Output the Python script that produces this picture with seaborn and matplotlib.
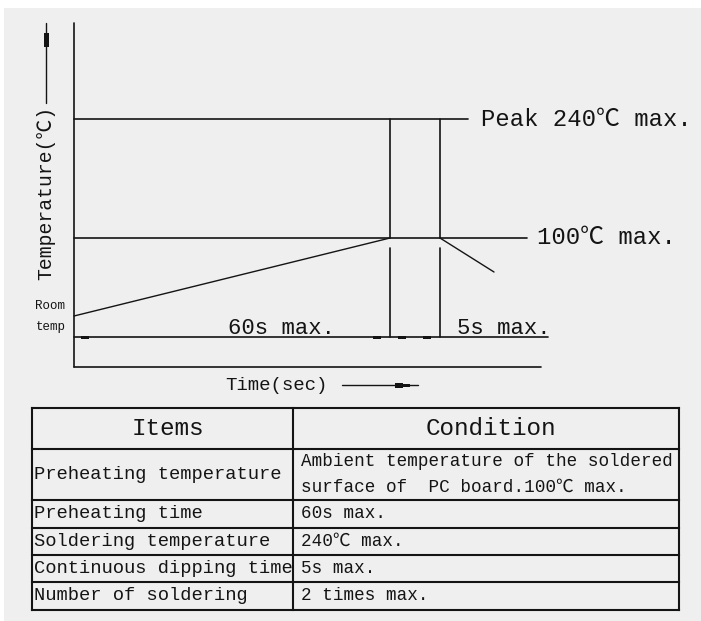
import matplotlib
matplotlib.use("Agg")
import matplotlib.pyplot as plt
import matplotlib.patches as mpatches
import seaborn as sns
import pandas as pd

# ---------------- data (schematic diagram units: 1 unit ~ 1 px) ----------------
# temperature levels (schematic heights above the time axis)
level_names = ["room", "preheat", "peak"]
level_heights = [51, 129, 248]
time_dim_height = 30          # height of the time dimension line
# time marks (schematic)
t_start, t_preheat_end, t_dip_end, t_cool_end = 0, 316, 366, 420
cool_end_height = 95

profile_time = [t_start, t_preheat_end, None, t_dip_end, t_cool_end]
profile_temp = [51, 129, None, 129, 95]

peak_label = "Peak 240℃ max."
preheat_label = "100℃ max."
preheat_time_label = "60s max."
dip_time_label = "5s max."
y_label = "Temperature(℃)"
x_label = "Time(sec)"

table_header = ["Items", "Condition"]
table_items = ["Preheating temperature", "Preheating time", "Soldering temperature",
               "Continuous dipping time", "Number of soldering"]
table_conditions = ["Ambient temperature of the soldered\nsurface of  PC board.100℃ max.",
                    "60s max.", "240℃ max.", "5s max.", "2 times max."]

# ---------------- style ----------------
sns.set_theme(style="white")
plt.rcParams["font.family"] = ["Liberation Mono", "Noto Sans CJK SC", "DejaVu Sans"]
ink = "#141414"
bg = "#efefef"

W, H = 701, 621
fig = plt.figure(figsize=(W / 100, H / 100), dpi=100)
fig.patch.set_facecolor("white")

ax = fig.add_axes([0, 0, 1, 1])
ax.set_xlim(-74, W - 74)
ax.set_ylim(367 - H, 367)
ax.set_axis_off()
# grey panel (white margins at top and left)
ax.add_patch(mpatches.Rectangle((-70, 367 - H - 5), W + 10, H - 8 + 5,
                                facecolor=bg, edgecolor="none", zorder=0))

lw = 1.2
# axes of the diagram
ax.plot([0, 0], [0, 344], color=ink, lw=lw)
ax.plot([0, 467], [0, 0], color=ink, lw=lw)

# temperature levels
peak = level_heights[2]
pre = level_heights[1]
ax.plot([0, 394], [peak, peak], color=ink, lw=lw)
ax.plot([0, 453], [pre, pre], color=ink, lw=lw)

# vertical markers of dipping interval
for t in (t_preheat_end, t_dip_end):
    ax.plot([t, t], [peak, pre], color=ink, lw=lw)
    ax.plot([t, t], [pre - 10, time_dim_height], color=ink, lw=lw)

# time dimension line
ax.plot([0, 474], [time_dim_height, time_dim_height], color=ink, lw=lw)
for x0 in (7, 299, 324, 349):
    ax.add_patch(mpatches.Rectangle((x0, time_dim_height - 1.5), 8, 3,
                                    facecolor=ink, edgecolor="none"))

# profile (ramp and cooling) drawn with seaborn
seg1 = pd.DataFrame({"t": profile_time[:2], "T": profile_temp[:2]})
seg2 = pd.DataFrame({"t": profile_time[3:], "T": profile_temp[3:]})
sns.lineplot(data=seg1, x="t", y="T", ax=ax, color=ink, lw=1.0)
sns.lineplot(data=seg2, x="t", y="T", ax=ax, color=ink, lw=1.0)
ax.set_xlim(-74, W - 74)
ax.set_ylim(367 - H, 367)
ax.set_axis_off()

# texts on diagram
ax.text(407, peak, peak_label, fontsize=17.2, va="center", ha="left", color=ink)
ax.text(463, pre, preheat_label, fontsize=17.2, va="center", ha="left", color=ink)
ax.text(154, 33, preheat_time_label, fontsize=16, va="baseline", ha="left", color=ink)
ax.text(383, 33, dip_time_label, fontsize=16, va="baseline", ha="left", color=ink)
ax.text(-39, 61, "Room", fontsize=9, va="center", ha="left", color=ink)
ax.text(-38, 40, "temp", fontsize=9, va="center", ha="left", color=ink)

# y label with arrow
ax.text(-28, 174, y_label, fontsize=14.2, rotation=90, va="center", ha="center", color=ink)
ax.plot([-28, -28], [264, 344], color=ink, lw=1.0)
ax.add_patch(mpatches.Rectangle((-30.5, 320), 5, 14, facecolor=ink, edgecolor="none"))

# x label with arrow
ax.text(151, -18, x_label, fontsize=13.7, va="center", ha="left", color=ink)
ax.plot([268, 344], [-18, -18], color=ink, lw=1.0)
ax.add_patch(mpatches.Rectangle((321, -20.5), 8, 5, facecolor=ink, edgecolor="none"))
ax.add_patch(mpatches.Rectangle((329, -19.5), 7, 3, facecolor=ink, edgecolor="none"))

# ---------------- table ----------------
tl, tr, tdiv = -42, 605, 219
row_edges = [-41, -82, -133, -161, -188, -215, -243]
tlw = 1.5
for y in row_edges:
    ax.plot([tl, tr], [y, y], color=ink, lw=tlw, solid_capstyle="projecting")
for x in (tl, tdiv, tr):
    ax.plot([x, x], [row_edges[0], row_edges[-1]], color=ink, lw=tlw, solid_capstyle="projecting")

hy = (row_edges[0] + row_edges[1]) / 2
ax.text((tl + tdiv) / 2 + 5, hy, table_header[0], fontsize=17.5, va="center", ha="center", color=ink)
ax.text((tdiv + tr) / 2 + 5, hy, table_header[1], fontsize=17.5, va="center", ha="center", color=ink)

for i, (item, cond) in enumerate(zip(table_items, table_conditions)):
    yc = (row_edges[i + 1] + row_edges[i + 2]) / 2
    ax.text(tl + 2, yc, item, fontsize=13.5, va="center", ha="left", color=ink)
    if "\n" in cond:
        lines = cond.split("\n")
        ax.text(tdiv + 8, yc + 12.5, lines[0], fontsize=12.7, va="center", ha="left", color=ink)
        ax.text(tdiv + 8, yc - 12.5, lines[1], fontsize=12.7, va="center", ha="left", color=ink)
    else:
        ax.text(tdiv + 8, yc, cond, fontsize=12.7, va="center", ha="left", color=ink)

fig.savefig("out.png", dpi=100, facecolor=fig.get_facecolor())
